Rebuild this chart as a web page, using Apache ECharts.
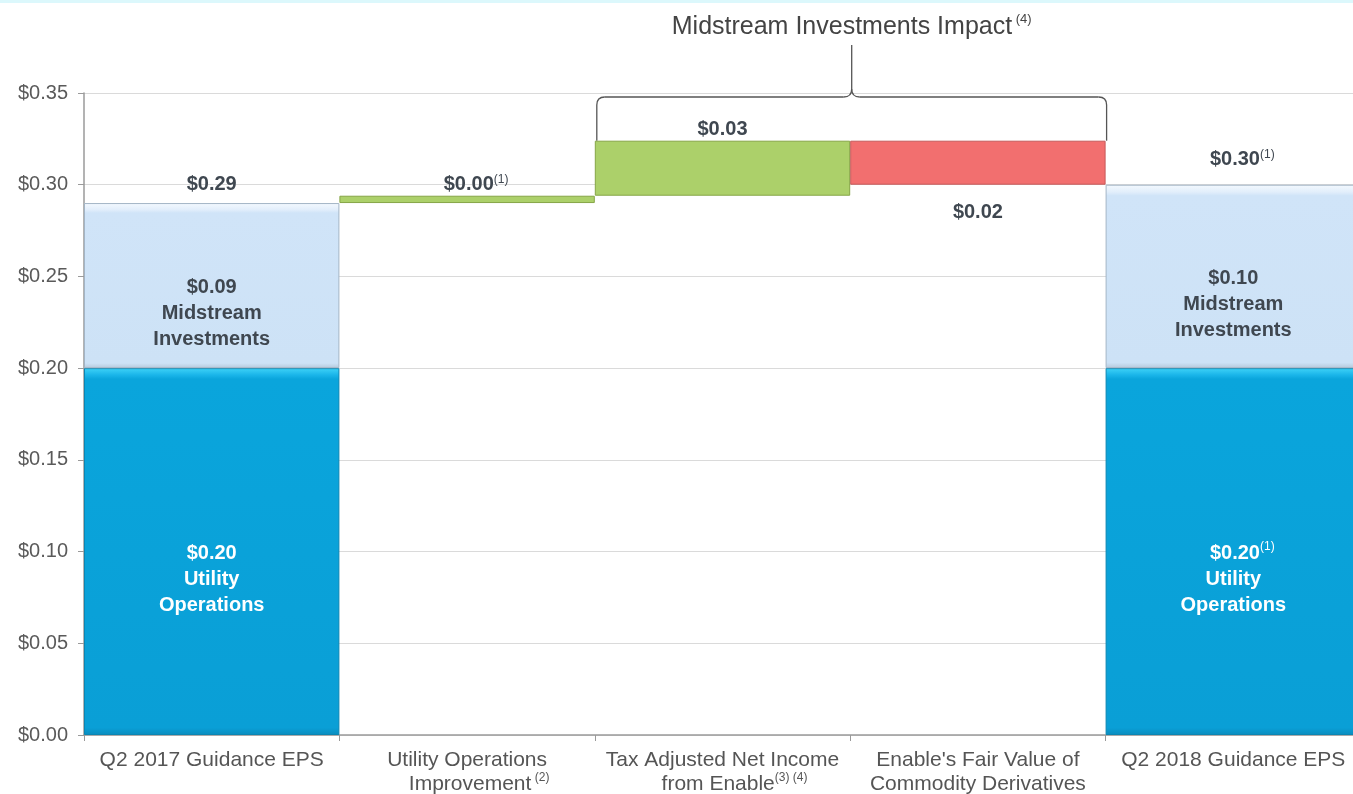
<!DOCTYPE html>
<html>
<head>
<meta charset="utf-8">
<title>Q2 Guidance EPS Walk</title>
<script src="https://cdn.jsdelivr.net/npm/echarts@6/dist/echarts.min.js"></script>
<style>
  html, body { margin: 0; padding: 0; background: #fff; }
  #chart { width: 1353px; height: 794px; }
</style>
</head>
<body>
<div id="chart"></div>
<script>
const categories = [
  'Q2 2017 Guidance EPS',
  'Utility Operations\nImprovement',
  'Tax Adjusted Net Income\nfrom Enable',
  "Enable's Fair Value of\nCommodity Derivatives",
  'Q2 2018 Guidance EPS',
];
const categoryNotes = ['', ' (2)', '(3) (4)', '', ''];

const utilityOps = [0.20, '-', '-', '-', 0.20];
const midstream = [0.09, '-', '-', '-', 0.10];
const changes = ['-', 0.004, 0.030, -0.024, '-'];

const valueLabels = ['$0.29', '$0.00', '$0.03', '$0.02', '$0.30'];
const valueNotes = ['', '(1)', '', '', '(1)'];
const utilityLabels = ['$0.20', '', '', '', '$0.20'];
const utilityNotes = ['', '', '', '', '(1)'];
const midstreamLabels = ['$0.09', '', '', '', '$0.10'];

const yMin = 0;
const yMax = 0.35;
const yStep = 0.05;

const bracketTitle = 'Midstream Investments Impact';
const bracketNote = '(4)';
const bracketFrom = 2;
const bracketTo = 3;

// waterfall pieces from the running total
let running = utilityOps[0] + midstream[0];
const base = [];
const ups = [];
const downs = [];
changes.forEach((c) => {
  if (c === '-') {
    base.push('-');
    ups.push('-');
    downs.push('-');
    return;
  }
  const next = running + c;
  base.push(Math.min(running, next));
  ups.push(c > 0 ? c : '-');
  downs.push(c < 0 ? -c : '-');
  running = next;
});

const totals = [];
utilityOps.forEach((u, i) => {
  if (u !== '-') totals.push({ value: [i, u + midstream[i]], label: { distance: i === 0 ? 8 : 14 } });
});

const FONT = '"Liberation Sans", Arial, sans-serif';
const dark = '#3f4750';
const withNote = (text, note) => {
  if (!note) return `{v|${text}}`;
  return `{pad|}{v|${text}}{sup|${note}}`;
};
const valueRich = (color, padW) => ({
  v: { fontSize: 20, fontWeight: 'bold', color, lineHeight: 22 },
  sup: { fontSize: 12, color, verticalAlign: 'top', lineHeight: 22 },
  pad: { width: padW },
});

const chart = echarts.init(document.getElementById('chart'));

const option = {
  animation: false,
  backgroundColor: '#fff',
  textStyle: { fontFamily: FONT },
  grid: { left: 84, top: 93, bottom: 59, width: 1277, outerBoundsMode: 'none' },
  xAxis: {
    type: 'category',
    data: categories,
    axisLine: { lineStyle: { color: '#9a9a9a', width: 1.5 } },
    axisTick: { show: true, length: 6, lineStyle: { color: '#9a9a9a' } },
    axisLabel: {
      margin: 13,
      interval: 0,
      formatter: (value, idx) => {
        const lines = value.split('\n');
        const last = lines.length - 1;
        return lines
          .map((l, k) => {
            const note = k === last ? categoryNotes[idx] : '';
            return note ? `{pad|}{t|${l}}{sup|${note}}` : `{t|${l}}`;
          })
          .join('\n');
      },
      rich: {
        t: { fontSize: 21, color: '#555', lineHeight: 24 },
        sup: { fontSize: 12, color: '#555', verticalAlign: 'top', lineHeight: 24 },
        pad: { width: 24 },
      },
    },
  },
  yAxis: {
    type: 'value',
    min: yMin,
    max: yMax,
    interval: yStep,
    axisLine: { show: true, lineStyle: { color: '#9a9a9a', width: 1.5 } },
    axisTick: { show: true, length: 6, lineStyle: { color: '#9a9a9a' } },
    axisLabel: {
      margin: 16,
      fontSize: 20,
      color: '#5a5a5a',
      formatter: (v) => '$' + v.toFixed(2),
    },
    splitLine: { lineStyle: { color: '#dadada', width: 1.2 } },
  },
  series: [
    {
      name: 'Utility Operations',
      type: 'bar',
      stack: 'eps',
      barWidth: '100%',
      data: utilityOps,
      itemStyle: {
        color: new echarts.graphic.LinearGradient(0, 0, 0, 1, [
          { offset: 0, color: '#3fd3f7' },
          { offset: 0.018, color: '#1bb6ea' },
          { offset: 0.03, color: '#0aa5dc' },
          { offset: 0.98, color: '#0a9fd6' },
          { offset: 1, color: '#0a8cbe' },
        ]),
        borderColor: '#0b86b3',
        borderWidth: 1,
      },
      label: {
        show: true,
        position: 'inside',
        offset: [0, 28],
        formatter: (p) => {
          const i = p.dataIndex;
          return withNote(utilityLabels[i], utilityNotes[i]) + '\n{t|Utility}\n{t|Operations}';
        },
        rich: {
          v: { fontSize: 20, fontWeight: 'bold', color: '#fff', lineHeight: 26 },
          t: { fontSize: 20, fontWeight: 'bold', color: '#fff', lineHeight: 26 },
          sup: { fontSize: 12, color: '#fff', verticalAlign: 'top', lineHeight: 26 },
          pad: { width: 18 },
        },
      },
    },
    {
      name: 'Midstream Investments',
      type: 'bar',
      stack: 'eps',
      data: midstream,
      itemStyle: {
        color: new echarts.graphic.LinearGradient(0, 0, 0, 1, [
          { offset: 0, color: '#f4f9fe' },
          { offset: 0.04, color: '#e2eefb' },
          { offset: 0.06, color: '#d0e4f8' },
          { offset: 0.97, color: '#cde2f6' },
          { offset: 1, color: '#b5c8da' },
        ]),
        borderColor: '#a3b5c6',
        borderWidth: 1,
      },
      label: {
        show: true,
        position: 'inside',
        offset: [0, 28],
        formatter: (p) => `{t|${midstreamLabels[p.dataIndex]}}\n{t|Midstream}\n{t|Investments}`,
        rich: {
          t: { fontSize: 20, fontWeight: 'bold', color: dark, lineHeight: 26 },
        },
      },
    },
    {
      name: 'base',
      type: 'bar',
      stack: 'eps',
      data: base,
      itemStyle: { color: 'transparent' },
      silent: true,
    },
    {
      name: 'Increase',
      type: 'bar',
      stack: 'eps',
      data: ups,
      itemStyle: { color: '#acd06a', borderColor: '#86a546', borderWidth: 1 },
      label: {
        show: true,
        position: 'top',
        distance: 0,
        formatter: (p) => withNote(valueLabels[p.dataIndex], valueNotes[p.dataIndex]),
        rich: valueRich(dark, 18),
      },
    },
    {
      name: 'Decrease',
      type: 'bar',
      stack: 'eps',
      data: downs,
      itemStyle: { color: '#f26f6f', borderColor: '#c65a5a', borderWidth: 1 },
      label: {
        show: true,
        position: 'bottom',
        distance: 17,
        formatter: (p) => withNote(valueLabels[p.dataIndex], valueNotes[p.dataIndex]),
        rich: valueRich(dark, 18),
      },
    },
    {
      name: 'Total',
      type: 'scatter',
      symbolSize: 0,
      data: totals,
      silent: true,
      itemStyle: { opacity: 1 },
      label: {
        show: true,
        position: 'top',
        opacity: 1,
        formatter: (p) => {
          const i = p.value[0];
          return withNote(valueLabels[i], valueNotes[i]);
        },
        rich: valueRich(dark, 18),
      },
    },
  ],
};

chart.setOption(option);

// bracket over the midstream items
const drawBracket = () => {
  let peak = 0;
  for (let i = bracketFrom; i <= bracketTo; i++) {
    const top = base[i] + (ups[i] !== '-' ? ups[i] : downs[i]);
    peak = Math.max(peak, top);
  }
  const [xa, yTop] = chart.convertToPixel({ gridIndex: 0 }, [bracketFrom, yMax]);
  const [xb, yBar] = chart.convertToPixel({ gridIndex: 0 }, [bracketTo, peak]);
  const half = (xb - xa) / (2 * (bracketTo - bracketFrom));
  const x0 = xa - half + 2;
  const x1 = xb + half + 1;
  const xm = (x0 + x1) / 2;
  const yl = yTop + 4;
  const stemTop = 45;
  const r = 8;
  const stroke = { stroke: '#555', lineWidth: 1.3, fill: 'none' };
  const seg = (ax, ay, bx, by) => ({ type: 'line', silent: true, shape: { x1: ax, y1: ay, x2: bx, y2: by }, style: stroke });
  const curve = (ax, ay, cx, cy, bx, by) => ({
    type: 'bezierCurve',
    silent: true,
    shape: { x1: ax, y1: ay, cpx1: cx, cpy1: cy, x2: bx, y2: by },
    style: stroke,
  });

  chart.setOption({
    graphic: [
      {
        type: 'rect',
        shape: { x: 0, y: 0, width: 1353, height: 3 },
        style: { fill: '#dcf8fc' },
        silent: true,
      },
      seg(x0, yBar, x0, yl + r),
      curve(x0, yl + r, x0, yl, x0 + r, yl),
      seg(x0 + r, yl, xm - r, yl),
      curve(xm - r, yl, xm, yl, xm, yl - r),
      seg(xm, yl - r, xm, stemTop),
      curve(xm, yl - r, xm, yl, xm + r, yl),
      seg(xm + r, yl, x1 - r, yl),
      curve(x1 - r, yl, x1, yl, x1, yl + r),
      seg(x1, yl + r, x1, yBar),
      {
        type: 'text',
        x: xm,
        y: 27,
        silent: true,
        style: {
          text: `{t|${bracketTitle}}{sup| ${bracketNote}}`,
          align: 'center',
          verticalAlign: 'middle',
          rich: {
            t: { fontSize: 25, fill: '#444', fontFamily: FONT, lineHeight: 28 },
            sup: { fontSize: 13, fill: '#444', fontFamily: FONT, verticalAlign: 'top', lineHeight: 28 },
          },
        },
      },
    ],
  });
};

drawBracket();
</script>
</body>
</html>
